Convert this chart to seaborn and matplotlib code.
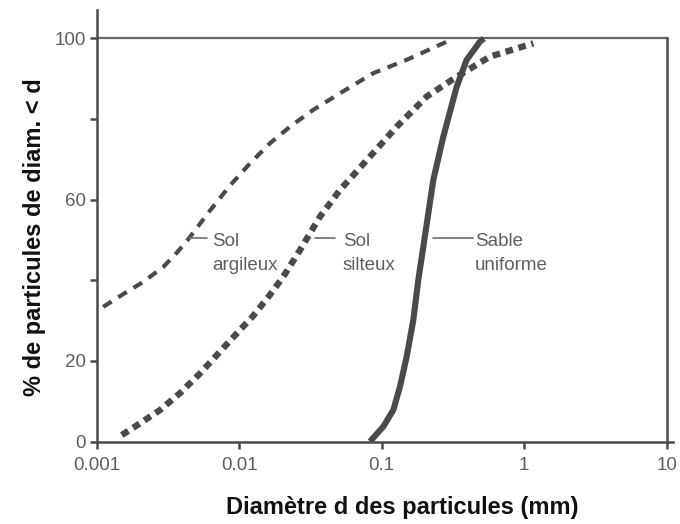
import numpy as np
import pandas as pd
import matplotlib
matplotlib.use("Agg")
import matplotlib.pyplot as plt
import seaborn as sns

# ---- data ----
argileux_d = [0.00111, 0.00154, 0.00212, 0.00293, 0.00364, 0.00435, 0.00624, 0.00861,
              0.0119, 0.01644, 0.0227, 0.0331, 0.0509, 0.0873, 0.1496, 0.2857, 0.301]
argileux_p = [33.4, 36.6, 39.6, 43.3, 46.8, 50.0, 57.3, 63.5,
              69.0, 74.0, 78.1, 82.3, 86.4, 91.4, 94.7, 99.2, 99.9]

silteux_d = [0.00150, 0.00201, 0.00278, 0.00384, 0.00531, 0.00733, 0.00960, 0.01256,
             0.01644, 0.0204, 0.0267, 0.0369, 0.0509, 0.0785, 0.1274,
             0.2070, 0.3357, 0.575, 1.158]
silteux_p = [1.6, 4.5, 7.8, 12.0, 16.9, 22.3, 26.8, 31.2,
             36.4, 40.9, 47.5, 55.8, 62.4, 69.8, 78.1,
             85.6, 90.5, 95.5, 98.8]

sable_d = [0.0828, 0.1026, 0.1206, 0.1343, 0.1496, 0.1666, 0.1807, 0.1959,
           0.2302, 0.2704, 0.3357, 0.3945, 0.4887, 0.522]
sable_p = [0.0, 3.7, 7.8, 13.6, 21.0, 30.1, 40.1, 48.3,
           64.9, 75.6, 88.0, 94.7, 99.2, 100.0]

xticks = [0.001, 0.01, 0.1, 1, 10]
xtick_labels = ["0.001", "0.01", "0.1", "1", "10"]
yticks = [0, 20, 40, 60, 80, 100]
ytick_labels = ["0", "20", "", "60", "", "100"]

labels = ["Sol\nargileux", "Sol\nsilteux", "Sable\nuniforme"]

sns.set_style("white")
plt.rcParams['font.family'] = ['Liberation Sans', 'DejaVu Sans']

fig = plt.figure(figsize=(6.8, 5.24), dpi=100)
ax = fig.add_axes([96.7/680, 82.5/524, 576.3/680, 431.5/524])

col = "#4a4a4a"
txtcol = "#5e5e5e"
df_a = pd.DataFrame({"d": argileux_d, "p": argileux_p})
df_s = pd.DataFrame({"d": silteux_d, "p": silteux_p})
df_u = pd.DataFrame({"d": sable_d, "p": sable_p})

ax.set_xscale("log")
xmax = 11.07
ax.set_xlim(0.001, xmax)
ax.set_ylim(0, 107.07)

# frame line at 100 %
ax.axhline(100, color="#666666", lw=1.6,
           xmax=(np.log10(10) + 3) / (np.log10(xmax) + 3), zorder=1)

sns.lineplot(data=df_a, x="d", y="p", ax=ax, color=col, lw=3.0, sort=False,
             linestyle=(0, (2.4, 1.9)), dash_capstyle="butt")
sns.lineplot(data=df_s, x="d", y="p", ax=ax, color=col, lw=4.6, sort=False,
             linestyle=(0, (1.2, 0.9)), dash_capstyle="butt")
sns.lineplot(data=df_u, x="d", y="p", ax=ax, color=col, lw=4.4, sort=False,
             solid_capstyle="butt")

for s in ["left", "bottom", "right"]:
    ax.spines[s].set_color(col)
    ax.spines[s].set_linewidth(1.8)
ax.spines["top"].set_visible(False)
ax.spines["right"].set_position(("data", 10))
ax.spines["right"].set_bounds(0, 100)

ax.set_xticks(xticks)
ax.set_xticklabels(xtick_labels)
ax.minorticks_off()
ax.set_yticks(yticks)
ax.set_yticklabels(ytick_labels)
ax.tick_params(axis="both", bottom=True, left=True, direction="out", length=5,
               width=1.8, color=col, labelsize=13.5, labelcolor=txtcol)
ax.tick_params(axis="x", pad=6)
ax.tick_params(axis="y", pad=3)

ax.set_xlabel("Diamètre d des particules (mm)", fontsize=17, fontweight="bold",
              color="#111111")
ax.set_ylabel("% de particules de diam. < d", fontsize=17, fontweight="bold",
              color="#111111")
ax.xaxis.set_label_coords(0.531, -0.126)
ax.yaxis.set_label_coords(-0.088, 0.474)

# annotations with leader lines
ann = [(0.00452, 0.00594, 0.00644, labels[0]),
       (0.0341, 0.0470, 0.0534, labels[1]),
       (0.228, 0.435, 0.4519, labels[2])]
for x0, x1, xt, lab in ann:
    ax.plot([x0, x1], [50.5, 50.5], color="#777777", lw=1.3)
    l1, l2 = lab.split("\n")
    ax.text(xt, 48.4, l1, ha="left", va="baseline", fontsize=13.5, color=txtcol)
    ax.text(xt, 42.6, l2, ha="left", va="baseline", fontsize=13.5, color=txtcol)

fig.savefig("out.png", dpi=100)
